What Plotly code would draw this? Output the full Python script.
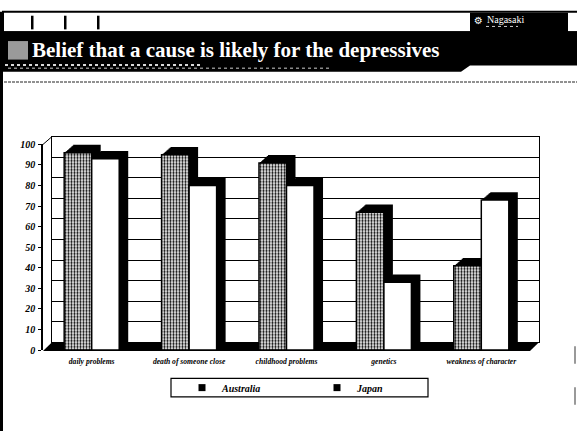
import plotly.graph_objects as go

# ---------------- data ----------------
categories = ["daily problems", "death of someone close", "childhood problems",
              "genetics", "weakness of character"]
australia = [96, 95, 91, 67, 41]
japan = [93, 80, 80, 33, 73]
series_names = ["Australia", "Japan"]
y_ticks = [0, 10, 20, 30, 40, 50, 60, 70, 80, 90, 100]
title_text = "Belief that a cause is likely for the depressives"

# ---------------- geometry helpers ----------------
W, H = 577, 437
def fx(px):
    return px / W
def fy(py):
    return (H - py) / H

FX0, FX1 = 43, 530        # front plot area (px)
FY_TOP, FY_BOT = 143, 354
DX, DY = 9, 8             # 3D depth offset (px)
K = 9                     # number of depth layers

SERIF = "Liberation Serif"

fig = go.Figure()
layout = {}

for n, k in enumerate(range(K, -1, -1), start=1):
    ox = DX * k / K
    oy = DY * k / K
    xid = "x" if n == 1 else f"x{n}"
    yid = "y" if n == 1 else f"y{n}"
    xkey = "xaxis" if n == 1 else f"xaxis{n}"
    ykey = "yaxis" if n == 1 else f"yaxis{n}"
    xa = dict(domain=[fx(FX0 + ox), fx(FX1 + ox)], anchor=yid, type="category",
              range=[-0.5, len(categories) - 0.5], showgrid=False, zeroline=False,
              fixedrange=True)
    ya = dict(domain=[fy(FY_BOT - oy), fy(FY_TOP - oy)], anchor=xid,
              range=[0, 100], showgrid=False, zeroline=False, fixedrange=True)
    front = (k == 0)
    if n == 1:
        # back wall with gridlines
        xa.update(showline=True, mirror=True, linecolor="black", linewidth=1,
                  showticklabels=False, ticks="")
        ya.update(showgrid=True, gridcolor="black", gridwidth=1, tickvals=y_ticks,
                  showline=True, mirror=True, linecolor="black", linewidth=1,
                  showticklabels=False, ticks="")
    elif front:
        xa.update(showline=False, ticks="", showticklabels=True,
                  ticklabelstandoff=5,
                  tickfont=dict(family=SERIF, size=7.6, color="black",
                                weight="bold", style="italic"))
        ya.update(showline=True, linecolor="black", linewidth=1.5, ticks="outside",
                  ticklen=3, tickcolor="black", tickwidth=1, tickvals=y_ticks,
                  ticklabelstandoff=1,
                  tickfont=dict(family=SERIF, size=10, color="black",
                                weight="bold", style="italic"))
    else:
        xa.update(visible=False)
        ya.update(visible=False)
    layout[xkey] = xa
    layout[ykey] = ya

    if not front:
        for name, vals in zip(series_names, [australia, japan]):
            fig.add_trace(go.Bar(x=categories, y=vals, name=name, xaxis=xid, yaxis=yid,
                                 marker=dict(color="black", line=dict(width=0)),
                                 showlegend=False, hoverinfo="skip"))
    else:
        fig.add_trace(go.Bar(x=categories, y=australia, name=series_names[0],
                             xaxis=xid, yaxis=yid, showlegend=False, hoverinfo="skip",
                             marker=dict(color="white",
                                         pattern=dict(shape=".", size=3, solidity=0.45,
                                                      fgcolor="black", bgcolor="white",
                                                      fillmode="replace"),
                                         line=dict(color="black", width=1.5))))
        fig.add_trace(go.Bar(x=categories, y=japan, name=series_names[1],
                             xaxis=xid, yaxis=yid, showlegend=False, hoverinfo="skip",
                             marker=dict(color="white",
                                         line=dict(color="black", width=1.5))))
        for name in series_names:
            fig.add_trace(go.Scatter(x=[None], y=[None], name=name, mode="markers",
                                     xaxis=xid, yaxis=yid, hoverinfo="skip",
                                     marker=dict(symbol="square", size=7, color="black")))

shapes = []
def rect(x0, y0, x1, y1, fill="black", line_color=None, lw=0, layer="above"):
    shapes.append(dict(type="rect", xref="paper", yref="paper",
                       x0=fx(x0), x1=fx(x1), y0=fy(y1), y1=fy(y0),
                       fillcolor=fill, line=dict(color=line_color or fill, width=lw),
                       layer=layer))
def line(x0, y0, x1, y1, color="black", lw=1, dash="solid", layer="above"):
    shapes.append(dict(type="line", xref="paper", yref="paper",
                       x0=fx(x0), x1=fx(x1), y0=fy(y0), y1=fy(y1),
                       line=dict(color=color, width=lw, dash=dash), layer=layer))
def poly(pts, fill="black", layer="above"):
    path = "M " + " L ".join(f"{fx(a)},{fy(b)}" for a, b in pts) + " Z"
    shapes.append(dict(type="path", xref="paper", yref="paper", path=path,
                       fillcolor=fill, line=dict(color=fill, width=0), layer=layer))

# header: top white band with outline and marks
rect(3, 7, 579, 28, fill="white", line_color="black", lw=2)
for xm in (31, 64, 97):
    rect(xm, 11, xm + 2.5, 25)
rect(470, 8, 568, 28)
# title band
poly([(2, 27), (577, 27), (577, 62), (470, 62), (461, 68.5), (2, 68.5)])
rect(8, 37, 28, 56, fill="#9a9a9a")
line(5, 61.5, 200, 61.5, color="#d8d8d8", lw=2, dash="dot")
line(8, 65, 330, 65, color="#8a8a8a", lw=1.5, dash="dot")
# dotted separator
line(4, 79, 577, 79, color="#222", lw=1, dash="3px,1px")
# left page border
line(1.5, 7, 1.5, 437, lw=3)
# right edge marks
line(575, 350, 575, 368, color="#999", lw=2)
line(575, 392, 575, 410, color="#999", lw=2)

# 3D frame: floor and left wall top edge
poly([(FX0, FY_BOT + 1), (FX1, FY_BOT + 1), (FX1 + DX, FY_BOT - DY), (FX0 + DX, FY_BOT - DY)],
     layer="below")
line(FX0, FY_TOP, FX0 + DX, FY_TOP - DY, lw=1)

# legend frame
rect(171, 383, 428, 402, fill="rgba(0,0,0,0)", line_color="black", lw=1.2)

annotations = [
    dict(text=title_text, xref="paper", yref="paper", x=fx(30), y=fy(46),
         xanchor="left", yanchor="middle", showarrow=False,
         font=dict(family=SERIF, size=21, color="white", weight="bold")),
    dict(text="Nagasaki", xref="paper", yref="paper", x=fx(485), y=fy(14.5),
         xanchor="left", yanchor="middle", showarrow=False,
         font=dict(family=SERIF, size=10, color="white")),
    dict(text="⚙", xref="paper", yref="paper", x=fx(478), y=fy(16),
         xanchor="center", yanchor="middle", showarrow=False,
         font=dict(family="DejaVu Sans", size=10, color="white")),
]
line(486, 22, 518, 22, color="#cccccc", lw=1, dash="dot")

fig.update_layout(
    width=W, height=H,
    margin=dict(l=0, r=0, t=0, b=0),
    paper_bgcolor="white", plot_bgcolor="rgba(0,0,0,0)",
    barmode="group", bargap=0.435, bargroupgap=0,
    shapes=shapes, annotations=annotations,
    showlegend=True,
    legend=dict(orientation="h", x=fx(182), xanchor="left", y=fy(392.5), yanchor="middle",
                entrywidth=90, entrywidthmode="pixels", itemwidth=30,
                bgcolor="rgba(0,0,0,0)", borderwidth=0,
                font=dict(family=SERIF, size=10, color="black", weight="bold",
                          style="italic")),
    hovermode=False,
    **layout,
)

fig.write_html("out.html", config={"displayModeBar": False})
